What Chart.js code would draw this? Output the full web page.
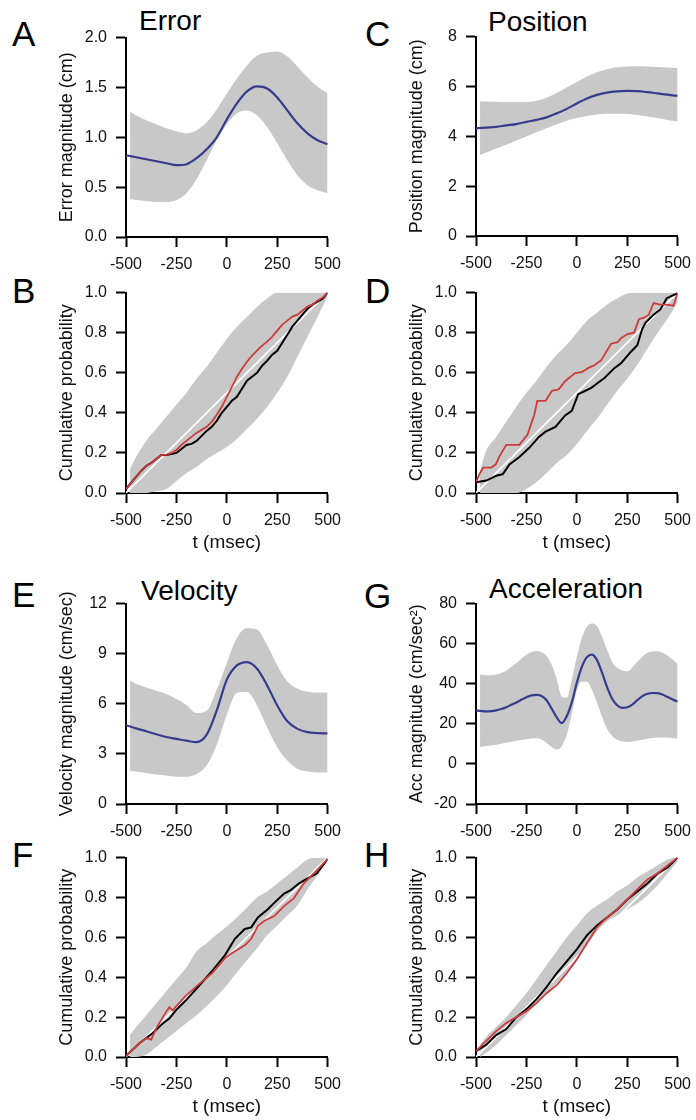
<!DOCTYPE html>
<html>
<head>
<meta charset="utf-8">
<script src="https://cdn.jsdelivr.net/npm/chart.js@4.4.1/dist/chart.umd.min.js"></script>
<style>
  html, body { margin: 0; padding: 0; background: #fff; }
  body { position: relative; width: 696px; height: 1120px; overflow: hidden;
         font-family: "Liberation Sans", Arial, sans-serif; }
  canvas { position: absolute; }
  .lbl { position: absolute; line-height: 1; color: #000; white-space: nowrap; }
  .letter { font-size: 35px; }
  .ttl { font-size: 28px; }
</style>
</head>
<body>
<div class="lbl letter" style="left:12px;top:16px">A</div>
<div class="lbl letter" style="left:12px;top:273px">B</div>
<div class="lbl letter" style="left:365px;top:16px">C</div>
<div class="lbl letter" style="left:365px;top:273px">D</div>
<div class="lbl letter" style="left:12px;top:577px">E</div>
<div class="lbl letter" style="left:12px;top:837px">F</div>
<div class="lbl letter" style="left:364px;top:578px">G</div>
<div class="lbl letter" style="left:364px;top:837px">H</div>
<div class="lbl ttl" style="left:139px;top:7px">Error</div>
<div class="lbl ttl" style="left:488px;top:8px">Position</div>
<div class="lbl ttl" style="left:141px;top:577px">Velocity</div>
<div class="lbl ttl" style="left:489px;top:575px">Acceleration</div>

<script>
// time grids (msec)
const tMean = [-500,-450,-400,-350,-300,-250,-200,-150,-100,-50,0,50,100,150,200,250,300,350,400,450,500];
const tBand = [-480,-450,-400,-350,-300,-250,-200,-150,-100,-50,0,50,100,150,200,250,300,350,400,450,500];
const t25 = [-500,-475,-450,-425,-400,-375,-350,-325,-300,-275,-250,-225,-200,-175,-150,-125,-100,-75,-50,-25,
             0,25,50,75,100,125,150,175,200,225,250,275,300,325,350,375,400,425,450,475,500];
const diagT = [-500, 500];
const diagP = [0, 1];

// A - error
const errMean = [0.82,0.80,0.78,0.76,0.74,0.72,0.73,0.79,0.88,1.00,1.18,1.34,1.46,1.51,1.49,1.40,1.27,1.14,1.04,0.97,0.93];
const errUp   = [1.26,1.22,1.17,1.13,1.09,1.06,1.04,1.07,1.15,1.28,1.44,1.59,1.72,1.82,1.85,1.86,1.81,1.71,1.60,1.51,1.44];
const errLo   = [0.38,0.37,0.36,0.35,0.35,0.37,0.44,0.58,0.77,0.97,1.13,1.24,1.27,1.22,1.10,0.94,0.77,0.62,0.52,0.47,0.44];

// C - position
const posMean = [4.32,4.35,4.38,4.44,4.49,4.58,4.66,4.76,4.92,5.10,5.32,5.52,5.66,5.75,5.80,5.82,5.81,5.77,5.72,5.67,5.62];
const posUp   = [5.41,5.40,5.39,5.38,5.38,5.38,5.43,5.55,5.74,5.96,6.18,6.40,6.57,6.69,6.77,6.80,6.81,6.80,6.78,6.76,6.74];
const posLo   = [3.25,3.35,3.51,3.66,3.83,3.99,4.16,4.32,4.48,4.62,4.73,4.81,4.87,4.90,4.90,4.89,4.85,4.79,4.73,4.65,4.59];

// E - velocity
const velMean = [4.72,4.53,4.36,4.18,4.01,3.90,3.79,3.70,4.15,5.60,7.45,8.30,8.50,8.10,7.10,5.90,4.95,4.50,4.30,4.24,4.23];
const velUp   = [7.36,7.20,6.97,6.78,6.58,6.28,5.92,5.45,5.58,6.85,8.45,9.95,10.52,10.45,9.50,8.30,7.35,6.90,6.72,6.67,6.67];
const velLo   = [1.99,1.94,1.85,1.77,1.70,1.63,1.63,1.80,2.30,3.55,5.35,6.65,6.70,5.90,4.58,3.40,2.60,2.10,1.95,1.89,1.89];

// G - acceleration
const accMean = [26.7,26.4,26.2,26.3,26.7,27.4,28.3,29.5,30.7,32.0,33.3,34.2,34.5,33.9,31.8,27.6,23.3,20.4,23.8,30.7,
                 40.5,48.5,53.3,54.5,51.8,45.5,38.3,32.5,29.3,28.0,28.3,29.6,31.8,33.8,35.0,35.4,35.3,34.6,33.4,32.2,31.1];
const accBandT = [-480,-450,-400,-350,-300,-250,-200,-175,-150,-125,-100,-75,-50,-25,0,25,50,75,100,125,150,175,200,250,300,350,400,450,500];
const accUp = [44.6,44.2,44.6,46.5,50.3,54.5,56.4,55.8,53.8,49.5,42.5,33.5,33.0,42.0,53.5,63.0,68.5,70.1,68.8,63.5,57.0,51.0,48.0,46.3,51.0,55.5,56.2,54.0,49.9];
const accLo = [8.5,8.9,9.6,10.6,11.5,12.3,12.8,12.2,10.5,8.5,7.2,8.8,14.5,25.0,36.5,41.0,41.0,37.0,30.5,23.5,17.5,14.0,12.0,11.0,11.5,12.6,13.2,13.2,12.5];

// B - error cumulative
const bBlack = [0.02,0.05,0.08,0.11,0.135,0.15,0.17,0.19,0.19,0.195,0.20,0.22,0.24,0.245,0.26,0.285,0.31,0.33,0.36,0.40,
                0.43,0.46,0.48,0.52,0.56,0.58,0.60,0.635,0.66,0.69,0.71,0.75,0.79,0.83,0.86,0.89,0.92,0.94,0.955,0.97,1.0];
const bRed   = [0.02,0.05,0.08,0.11,0.135,0.15,0.17,0.19,0.19,0.20,0.215,0.24,0.26,0.28,0.30,0.315,0.33,0.355,0.39,0.43,
                0.48,0.53,0.58,0.62,0.655,0.685,0.71,0.735,0.755,0.78,0.81,0.84,0.86,0.88,0.89,0.91,0.93,0.94,0.96,0.975,1.0];
const bUp = [0.12,0.18,0.26,0.32,0.38,0.44,0.50,0.57,0.63,0.70,0.77,0.83,0.88,0.93,0.97,1.0,1.0,1.0,1.0,1.0,1.0];
const bLo = [0,0,0,0.01,0.02,0.06,0.10,0.13,0.17,0.20,0.23,0.27,0.32,0.37,0.43,0.50,0.58,0.68,0.78,0.88,0.98];

// D - position cumulative
const dRedT = [-500,-480,-464,-424,-402,-383,-350,-285,-245,-212,-196,-155,-123,-90,-58,-9,24,56,89,121,170,202,219,251,284,308,333,357,381,414,446,479,500];
const dRed  = [0.054,0.10,0.127,0.127,0.143,0.184,0.24,0.24,0.29,0.387,0.46,0.46,0.51,0.517,0.558,0.598,0.603,0.623,0.639,0.663,0.745,0.753,0.772,0.793,0.80,0.867,0.875,0.89,0.948,0.94,0.94,0.935,0.997];
const dBlackT = [-500,-448,-400,-367,-334,-285,-237,-188,-155,-106,-58,-25,7,40,72,105,137,186,219,267,300,324,341,381,414,446,471,500];
const dBlack  = [0.054,0.062,0.086,0.094,0.143,0.18,0.224,0.28,0.306,0.33,0.387,0.41,0.493,0.509,0.525,0.55,0.574,0.623,0.647,0.704,0.737,0.818,0.85,0.89,0.915,0.972,0.984,0.997];
const dUp = [0.11,0.21,0.28,0.355,0.43,0.50,0.56,0.63,0.69,0.74,0.80,0.86,0.90,0.94,0.97,0.995,1.0,1.0,1.0,1.0,1.0];
const dLo = [0,0,0,0,0,0.02,0.055,0.10,0.15,0.19,0.245,0.31,0.37,0.44,0.51,0.57,0.64,0.72,0.80,0.87,0.95];

// F - velocity cumulative
const fBlackT = [-500,-432,-367,-318,-285,-253,-204,-139,-74,-9,40,89,121,154,202,235,284,317,357,398,446,500];
const fBlack  = [0.005,0.07,0.12,0.168,0.193,0.234,0.283,0.356,0.43,0.511,0.593,0.642,0.65,0.70,0.74,0.773,0.82,0.837,0.87,0.895,0.92,0.993];
const fRedT = [-500,-432,-399,-375,-350,-302,-285,-269,-204,-139,-74,-9,24,89,121,154,186,235,284,333,381,446,500];
const fRed  = [0.005,0.07,0.095,0.087,0.144,0.225,0.25,0.234,0.307,0.364,0.42,0.495,0.52,0.56,0.593,0.657,0.683,0.707,0.757,0.797,0.87,0.936,0.993];
const fUp = [0.11,0.15,0.21,0.27,0.33,0.39,0.45,0.53,0.57,0.615,0.655,0.70,0.75,0.80,0.83,0.87,0.91,0.95,0.99,1.0,1.0];
const fLo = [0,0,0.012,0.05,0.09,0.13,0.17,0.21,0.255,0.305,0.36,0.425,0.485,0.545,0.61,0.66,0.71,0.76,0.84,0.91,0.985];

// H - acceleration cumulative
const hBlack = [0.03,0.06,0.11,0.14,0.20,0.24,0.29,0.35,0.42,0.48,0.54,0.61,0.66,0.70,0.74,0.79,0.83,0.87,0.92,0.95,1.0];
const hRed   = [0.03,0.08,0.13,0.17,0.20,0.23,0.27,0.32,0.36,0.42,0.49,0.57,0.65,0.70,0.74,0.79,0.84,0.89,0.92,0.96,1.0];
const hUp = [0.06,0.10,0.15,0.20,0.26,0.32,0.39,0.46,0.53,0.60,0.66,0.72,0.76,0.79,0.83,0.86,0.90,0.93,0.96,0.99,1.0];
const hLo = [0.0,0.02,0.06,0.11,0.16,0.21,0.27,0.32,0.37,0.42,0.48,0.56,0.63,0.68,0.71,0.74,0.77,0.81,0.86,0.92,0.98];

const FONT = '"Liberation Sans", Arial, sans-serif';
Chart.defaults.font.family = FONT;
Chart.defaults.color = '#111';

const GRAY = '#c8c8c8';
const BLUE = '#353c8c';
const RED = '#cc3b3b';

const zip = (xs, ys) => xs.map((x, i) => ({ x: x, y: ys[i] }));

function band(xs, up, lo) {
  return [
    { data: zip(xs, up), borderWidth: 0, pointRadius: 0, fill: '+1', backgroundColor: GRAY,
      borderColor: GRAY, cubicInterpolationMode: 'monotone', order: 20 },
    { data: zip(xs, lo), borderWidth: 0, pointRadius: 0, fill: false,
      borderColor: GRAY, cubicInterpolationMode: 'monotone', order: 21 }
  ];
}
function line(xs, ys, color, width, order, smooth) {
  return { data: zip(xs, ys), borderColor: color, borderWidth: width, pointRadius: 0, fill: false,
           cubicInterpolationMode: smooth ? 'monotone' : 'default', tension: 0, order: order };
}

function addPanel(p) {
  const YW = 75, PT = 14, PR = 18, PB = 2;
  const XH = p.xTitle ? 61 : 40;
  const w = 205, h = p.bottom - p.top;
  const cw = YW + w + PR, ch = PT + h + XH + PB;
  const cv = document.createElement('canvas');
  cv.width = cw; cv.height = ch;
  cv.style.left = (p.left - YW) + 'px';
  cv.style.top = (p.top - PT) + 'px';
  document.body.appendChild(cv);

  const axisGrid = { drawOnChartArea: false, drawTicks: true, tickLength: 10, tickWidth: 2, tickColor: '#000' };
  const axisBorder = { display: true, color: '#000', width: 2 };

  new Chart(cv, {
    type: 'line',
    data: { datasets: p.datasets },
    options: {
      responsive: false,
      animation: false,
      devicePixelRatio: 1,
      layout: { padding: { top: PT, right: PR, bottom: PB, left: 0 } },
      plugins: { legend: { display: false }, tooltip: { enabled: false } },
      scales: {
        x: {
          type: 'linear', min: -500, max: 500,
          afterFit: s => { s.height = XH; },
          ticks: { stepSize: 250, autoSkip: false, maxRotation: 0, padding: 8, color: '#111',
                   font: { size: 16 }, callback: v => String(v) },
          grid: axisGrid, border: axisBorder,
          title: { display: !!p.xTitle, text: p.xTitle || '', font: { size: 19 }, color: '#111', padding: 0 }
        },
        y: {
          type: 'linear', min: p.yMin, max: p.yMax,
          afterFit: s => { s.width = YW; },
          ticks: { stepSize: p.yStep, padding: 9, color: '#111', font: { size: 16 },
                   callback: v => v.toFixed(p.yDec) },
          grid: axisGrid, border: axisBorder,
          title: { display: true, text: p.yTitle, font: { size: 18 }, color: '#111', padding: { top: 5, bottom: 0 } }
        }
      }
    }
  });
}

const CUM = 'Cumulative probability';
const TX = 't (msec)';
function cumSets(up, lo, blackT, black, redT, red) {
  return band(tBand, up, lo).concat([
    line(diagT, diagP, '#ffffff', 1.6, 5, false),
    line(blackT, black, '#000000', 2, 3, false),
    line(redT, red, RED, 1.8, 2, false)
  ]);
}

addPanel({ left: 126, top: 33, bottom: 237, yMin: 0, yMax: 2, yStep: 0.5, yDec: 1,
  yTitle: 'Error magnitude (cm)',
  datasets: band(tBand, errUp, errLo).concat([line(tMean, errMean, BLUE, 2.2, 1, true)]) });
addPanel({ left: 476, top: 32, bottom: 236, yMin: 0, yMax: 8, yStep: 2, yDec: 0,
  yTitle: 'Position magnitude (cm)',
  datasets: band(tBand, posUp, posLo).concat([line(tMean, posMean, BLUE, 2.2, 1, true)]) });
addPanel({ left: 126, top: 288, bottom: 493, yMin: 0, yMax: 1, yStep: 0.2, yDec: 1,
  yTitle: CUM, xTitle: TX, datasets: cumSets(bUp, bLo, t25, bBlack, t25, bRed) });
addPanel({ left: 476, top: 288, bottom: 493, yMin: 0, yMax: 1, yStep: 0.2, yDec: 1,
  yTitle: CUM, xTitle: TX, datasets: cumSets(dUp, dLo, dBlackT, dBlack, dRedT, dRed) });
addPanel({ left: 126, top: 599, bottom: 804, yMin: 0, yMax: 12, yStep: 3, yDec: 0,
  yTitle: 'Velocity magnitude (cm/sec)',
  datasets: band(tBand, velUp, velLo).concat([line(tMean, velMean, BLUE, 2.2, 1, true)]) });
addPanel({ left: 476, top: 599, bottom: 804, yMin: -20, yMax: 80, yStep: 20, yDec: 0,
  yTitle: 'Acc magnitude (cm/sec\u00b2)',
  datasets: band(accBandT, accUp, accLo).concat([line(t25, accMean, BLUE, 2.2, 1, true)]) });
addPanel({ left: 126, top: 853, bottom: 1057, yMin: 0, yMax: 1, yStep: 0.2, yDec: 1,
  yTitle: CUM, xTitle: TX, datasets: cumSets(fUp, fLo, fBlackT, fBlack, fRedT, fRed) });
addPanel({ left: 476, top: 853, bottom: 1057, yMin: 0, yMax: 1, yStep: 0.2, yDec: 1,
  yTitle: CUM, xTitle: TX, datasets: cumSets(hUp, hLo, tMean, hBlack, tMean, hRed) });
</script>
</body>
</html>
